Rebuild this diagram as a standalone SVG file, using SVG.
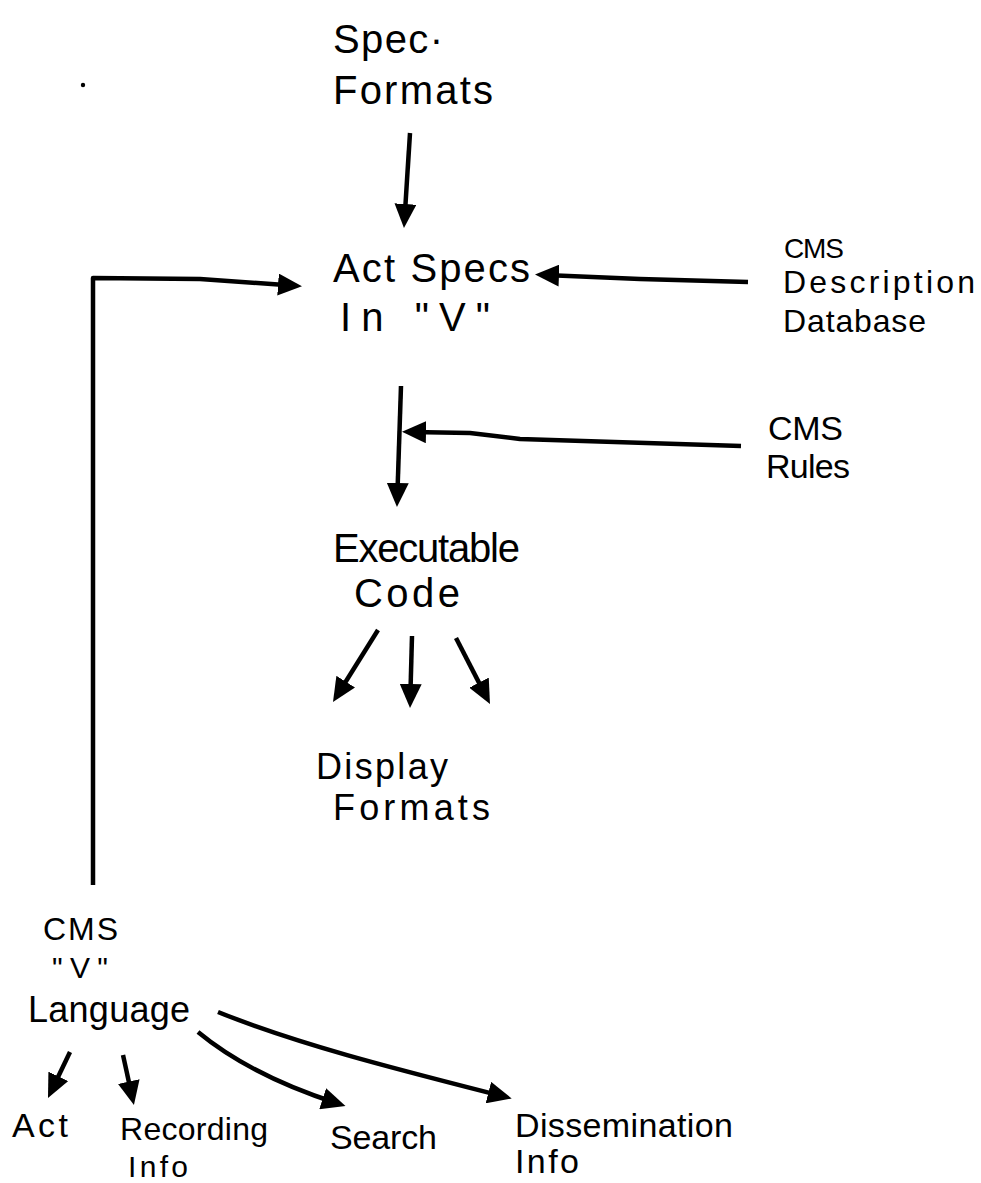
<svg xmlns="http://www.w3.org/2000/svg" width="981" height="1183" viewBox="0 0 981 1183">
  <style>
    .lbl { font-family: "Liberation Sans", Arial, sans-serif; fill: #000; }
    .big { font-size: 40px; }
    .mid { font-size: 34px; }
    .sm { font-size: 32px; }
    .ln { stroke: #000; stroke-width: 4.5; fill: none; stroke-linecap: butt; stroke-linejoin: round; }
    .arr { marker-end: url(#head); }
  </style>
  <defs>
    <marker id="head" viewBox="0 0 24 22" refX="14" refY="11" markerWidth="24" markerHeight="22" markerUnits="userSpaceOnUse" orient="auto">
      <path d="M0,0 L24,11 L0,22 Z" fill="#000"/>
    </marker>
  </defs>
  <rect width="981" height="1183" fill="#fff"/>

  <!-- stray pen mark -->
  <circle cx="83" cy="85" r="2.2" fill="#000"/>

  <g id="spec-formats">
    <text class="lbl big" x="333" y="53" textLength="110">Spec·</text>
    <text class="lbl big" x="333" y="104" textLength="160">Formats</text>
  </g>

  <g id="act-specs">
    <text class="lbl big" x="333" y="282" textLength="197">Act Specs</text>
    <text class="lbl big" x="340" y="331" textLength="150">In "V"</text>
  </g>

  <g id="cms-description-database">
    <text class="lbl" style="font-size:28px" x="784" y="258" textLength="60">CMS</text>
    <text class="lbl sm" x="783" y="293" textLength="192">Description</text>
    <text class="lbl sm" x="783" y="332" textLength="143">Database</text>
  </g>

  <g id="cms-rules">
    <text class="lbl mid" x="768" y="440" textLength="75">CMS</text>
    <text class="lbl mid" x="766" y="478" textLength="84">Rules</text>
  </g>

  <g id="executable-code">
    <text class="lbl big" x="333" y="562" textLength="187">Executable</text>
    <text class="lbl big" x="354" y="607" textLength="106">Code</text>
  </g>

  <g id="display-formats">
    <text class="lbl" style="font-size:36px" x="316" y="779" textLength="132">Display</text>
    <text class="lbl" style="font-size:36px" x="333" y="820" textLength="157">Formats</text>
  </g>

  <g id="cms-v-language">
    <text class="lbl" style="font-size:32px" x="43" y="940" textLength="75">CMS</text>
    <text class="lbl" style="font-size:30px" x="52" y="978" textLength="56">"V"</text>
    <text class="lbl" style="font-size:36px" x="28" y="1022" textLength="162">Language</text>
  </g>

  <g id="act">
    <text class="lbl mid" x="12" y="1137" textLength="56">Act</text>
  </g>

  <g id="recording-info">
    <text class="lbl" style="font-size:32px" x="120" y="1140" textLength="148">Recording</text>
    <text class="lbl" style="font-size:30px" x="128" y="1177" textLength="60">Info</text>
  </g>

  <g id="search">
    <text class="lbl mid" x="330" y="1149" textLength="107">Search</text>
  </g>

  <g id="dissemination-info">
    <text class="lbl mid" x="515" y="1137" textLength="218">Dissemination</text>
    <text class="lbl mid" x="515" y="1173" textLength="64">Info</text>
  </g>

  <g id="connectors">
    <!-- Spec Formats to Act Specs -->
    <path class="ln arr" d="M410,133 L404.6,218"/>
    <!-- language feedback loop -->
    <path class="ln arr" d="M93,885 L93,278 L200,279 L292,285.5"/>
    <!-- description database into Act Specs -->
    <path class="ln arr" d="M748,282 L640,279 L545,275"/>
    <!-- Act Specs to Executable Code -->
    <path class="ln arr" d="M401,386 L397.3,497"/>
    <!-- rules joining the compile step -->
    <path class="ln arr" d="M741,446 L520,439 L470,433 L412,432"/>
    <!-- Executable Code to Display Formats -->
    <path class="ln arr" d="M378,630 L338.3,693.5"/>
    <path class="ln arr" d="M412,636 L410.3,698"/>
    <path class="ln arr" d="M456,638 L485.4,695.1"/>
    <!-- language parts -->
    <path class="ln arr" d="M70,1052 L52.3,1089"/>
    <path class="ln arr" d="M123,1055 L131.8,1095.2"/>
    <path class="ln arr" d="M198,1032 Q250,1075 336,1103"/>
    <path class="ln arr" d="M218,1012 C300,1045 400,1070 502,1096"/>
  </g>
</svg>
